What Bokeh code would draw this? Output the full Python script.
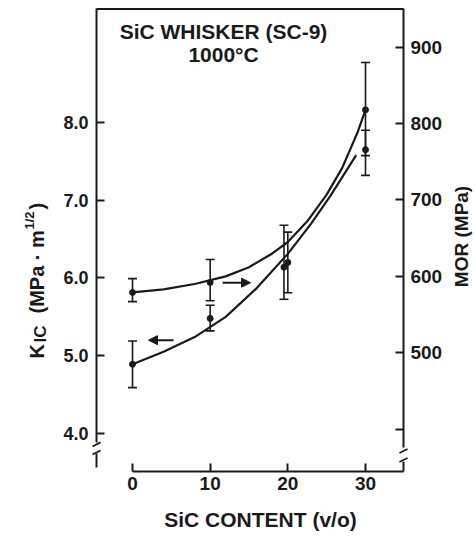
import math
from bokeh.plotting import figure
from bokeh.models import (Range1d, LinearAxis, FixedTicker, Whisker, TeeHead, ColumnDataSource,
                          Label, Arrow, NormalHead, PrintfTickFormatter)
from bokeh.embed import file_html
from bokeh.resources import INLINE

# ---------------- data ----------------
sic_content = [0, 10, 20, 30]
kic = [4.89, 5.48, 6.20, 7.65]
kic_low = [4.59, 5.32, 5.81, 7.32]
kic_high = [5.19, 5.65, 6.59, 7.90]

mor_x = [0, 10, 19.5, 30]
mor = [579, 592, 612, 818]
mor_low = [567, 568, 570, 758]
mor_high = [597, 622, 667, 880]

kic_curve_x = [0, 4, 8, 12, 16, 20, 23, 25.5, 28.8]
kic_curve_y = [4.89, 5.05, 5.24, 5.50, 5.87, 6.31, 6.70, 7.06, 7.58]
mor_curve_x = [0, 4, 8, 12, 15, 18, 20, 22.5, 25, 27, 29, 30]
mor_curve_y = [579, 583, 590, 600, 612, 630, 645, 672, 707, 742, 789, 818]

x_ticks = [0, 10, 20, 30]
kic_ticks = [4, 5, 6, 7, 8]
mor_ticks = [400, 500, 600, 700, 800, 900]

# ---------------- figure ----------------
ink = "#1a1a1a"
FONT = "Liberation Sans"
# ranges chosen so that the plotting frame covers the whole canvas
X0, X1 = -16.995, 44.29
Y0, Y1 = 2.675, 9.569
M0, M1 = 259.5, 961.1
# axis positions (data units)
XL, XR = -4.635, 34.89      # left / right axis lines
YB, YT = 3.511, 9.46        # bottom axis / top border (KIC units)
MB, MT = 344.6, 950.0       # same in MOR units

p = figure(width=476, height=536, x_range=Range1d(X0, X1), y_range=Range1d(Y0, Y1),
           output_backend="svg", toolbar_location=None,
           x_axis_type=None, y_axis_type=None,
           min_border_left=0, min_border_right=0, min_border_top=0, min_border_bottom=0)
p.extra_y_ranges = {"mor": Range1d(M0, M1)}
p.outline_line_color = None
p.background_fill_color = "white"
p.border_fill_color = "white"


def style_axis(ax, size):
    ax.axis_line_width = 2
    ax.axis_line_color = ink
    ax.major_tick_line_width = 2
    ax.major_tick_line_color = ink
    ax.major_tick_in = 8
    ax.major_tick_out = 0
    ax.minor_tick_line_color = None
    ax.major_label_text_font = FONT
    ax.major_label_text_font_style = "bold"
    ax.major_label_text_font_size = size
    ax.major_label_text_color = ink


yl = LinearAxis(ticker=FixedTicker(ticks=kic_ticks), formatter=PrintfTickFormatter(format="%.1f"),
                bounds=(3.884, YT), fixed_location=XL)
style_axis(yl, "18px")
yl.major_label_standoff = 8
p.add_layout(yl, "left")

yr = LinearAxis(y_range_name="mor", ticker=FixedTicker(ticks=mor_ticks),
                major_label_overrides={400: ""}, bounds=(376.0, MT), fixed_location=XR)
style_axis(yr, "19px")
yr.major_label_standoff = 7
p.add_layout(yr, "right")

xb = LinearAxis(ticker=FixedTicker(ticks=x_ticks), bounds=(0, XR), fixed_location=YB)
style_axis(xb, "19px")
xb.major_label_standoff = 5
p.add_layout(xb, "below")

# top border line
p.segment(x0=[XL], y0=[YT], x1=[XR], y1=[YT], line_width=2, line_color=ink)

# axis stubs below the breaks
p.segment(x0=[XL], y0=[3.743], x1=[XL], y1=[3.563], line_width=2, line_color=ink)
p.segment(x0=[XR], y0=[357.5], x1=[XR], y1=[MB], line_width=2, line_color=ink,
          y_range_name="mor")

# break marks (short slanted strokes across the axes)
dk = 0.026
p.segment(x0=[XL - 0.52, XL - 0.52], y0=[3.859 - dk, 3.756 - dk],
          x1=[XL + 0.52, XL + 0.52], y1=[3.859 + dk, 3.756 + dk],
          line_width=1.8, line_color=ink)
dm = 2.6
p.segment(x0=[XR - 0.52, XR - 0.52], y0=[371.4 - dm, 359.6 - dm],
          x1=[XR + 0.52, XR + 0.52], y1=[371.4 + dm, 359.6 + dm],
          line_width=1.8, line_color=ink, y_range_name="mor")

# ---------------- curves ----------------
p.line(kic_curve_x, kic_curve_y, line_width=2.2, line_color=ink)
p.line(mor_curve_x, mor_curve_y, line_width=2.2, line_color=ink, y_range_name="mor")

# ---------------- error bars and points ----------------
src_k = ColumnDataSource(dict(x=sic_content, y=kic, lo=kic_low, hi=kic_high))
src_m = ColumnDataSource(dict(x=mor_x, y=mor, lo=mor_low, hi=mor_high))

for src, rng in ((src_k, "default"), (src_m, "mor")):
    w = Whisker(base="x", upper="hi", lower="lo", source=src, y_range_name=rng,
                line_width=1.6, line_color=ink,
                upper_head=TeeHead(size=9, line_width=1.6, line_color=ink),
                lower_head=TeeHead(size=9, line_width=1.6, line_color=ink))
    p.add_layout(w)

p.scatter("x", "y", source=src_k, size=6, color=ink)
p.scatter("x", "y", source=src_m, size=6, color=ink, y_range_name="mor")

# ---------------- arrows ----------------
p.add_layout(Arrow(end=NormalHead(size=9, fill_color=ink, line_color=ink, line_width=1),
                   x_start=11.6, y_start=591.7, x_end=15.2, y_end=591.7,
                   y_range_name="mor", line_width=2, line_color=ink))
p.add_layout(Arrow(end=NormalHead(size=9, fill_color=ink, line_color=ink, line_width=1),
                   x_start=5.28, y_start=5.20, x_end=2.06, y_end=5.20,
                   line_width=2, line_color=ink))

# ---------------- texts ----------------
def lab(x, y, text, size, align="center", baseline="middle", angle=0.0, rng="default"):
    p.add_layout(Label(x=x, y=y, text=text, text_align=align, text_baseline=baseline,
                       text_font=FONT, text_font_size=size, text_font_style="bold",
                       text_color=ink, angle=angle, y_range_name=rng))


lab(11.72, 9.170, "SiC WHISKER (SC-9)", "21px")
lab(11.72, 8.875, "1000°C", "21px")
lab(16.48, 2.894, "SiC CONTENT (v/o)", "21px")
lab(42.35, 6.534, "MOR (MPa)", "19px", angle=math.pi / 2)

# K_IC (MPa · m^1/2), rotated
half = math.pi / 2
lab(-12.36, 4.965, "K", "20px", align="left", baseline="alphabetic", angle=half)
lab(-11.84, 5.170, "IC", "17px", align="left", baseline="alphabetic", angle=half)
lab(-12.36, 5.543, "(MPa · m", "20px", align="left", baseline="alphabetic", angle=half)
lab(-13.26, 6.624, "1/2", "13px", align="left", baseline="alphabetic", angle=half)
lab(-12.36, 6.881, ")", "20px", align="left", baseline="alphabetic", angle=half)

open("out.html", "w").write(file_html(p, INLINE))
